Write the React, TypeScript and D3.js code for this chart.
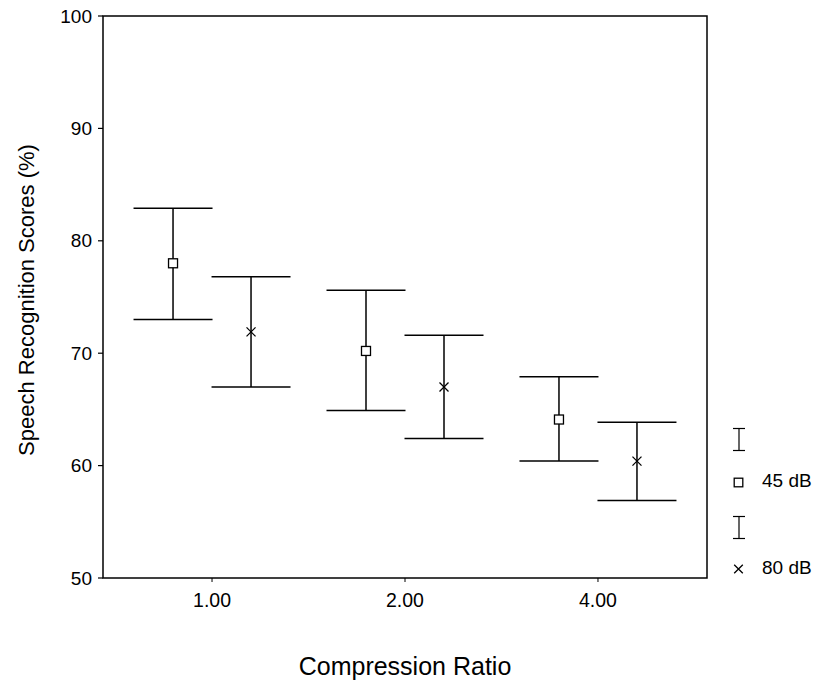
import React from "react";
import * as d3 from "d3";

const categories = ["1.00", "2.00", "4.00"];
const series = ["45 dB", "80 dB"];
const means45 = [78.0, 70.2, 64.1];
const upper45 = [82.9, 75.6, 67.9];
const lower45 = [73.0, 64.9, 60.4];
const means80 = [71.9, 67.0, 60.4];
const upper80 = [76.8, 71.6, 63.85];
const lower80 = [67.0, 62.4, 56.9];
const yTicks = [50, 60, 70, 80, 90, 100];

const W = 819, H = 681;
const L = 103, R = 707, T = 16, B = 578;
const FONT = "'Liberation Sans', Arial, sans-serif";

export default function App() {
  const x = d3.scalePoint<string>().domain(categories).range([L, R]).padding(0.565);
  const y = d3.scaleLinear().domain([50, 100]).range([B, T]);
  const off = 39;
  const cap = 39.5;
  const data = [
    { name: series[0], means: means45, up: upper45, lo: lower45, dx: -off, marker: "square" },
    { name: series[1], means: means80, up: upper80, lo: lower80, dx: off, marker: "cross" },
  ];
  const marker = (kind: string, cx: number, cy: number, s: number, key: string) =>
    kind === "square" ? (
      <rect key={key} x={cx - s} y={cy - s} width={2 * s} height={2 * s} fill="white" stroke="black" strokeWidth={1.3} />
    ) : (
      <path key={key} d={`M${cx - s},${cy - s}L${cx + s},${cy + s}M${cx - s},${cy + s}L${cx + s},${cy - s}`} stroke="black" strokeWidth={1.3} />
    );
  const legendI = [439.5, 527.5];
  const legendM = [482.5, 569];
  return (
    <svg width={W} height={H} style={{ position: "absolute", left: 0, top: 0, background: "white" }} fontFamily={FONT}>
      <rect x={0} y={0} width={W} height={H} fill="white" />
      <rect x={L} y={T} width={R - L} height={B - T} fill="none" stroke="black" strokeWidth={1.5} />
      {yTicks.map((t) => (
        <g key={t}>
          <line x1={L - 5} x2={L} y1={y(t)} y2={y(t)} stroke="black" strokeWidth={1.2} />
          <text x={L - 11} y={y(t)} dy="0.35em" textAnchor="end" fontSize={19}>{t}</text>
        </g>
      ))}
      {categories.map((c) => (
        <g key={c}>
          <line x1={x(c)} x2={x(c)} y1={B} y2={B + 4} stroke="black" strokeWidth={1} />
          <text x={x(c)} y={607} textAnchor="middle" fontSize={19.5}>{c}</text>
        </g>
      ))}
      {data.map((s) =>
        categories.map((c, i) => {
          const cx = (x(c) as number) + s.dx;
          return (
            <g key={s.name + c}>
              <line x1={cx} x2={cx} y1={y(s.up[i])} y2={y(s.lo[i])} stroke="black" strokeWidth={1.5} />
              <line x1={cx - cap} x2={cx + cap} y1={y(s.up[i])} y2={y(s.up[i])} stroke="black" strokeWidth={1.5} />
              <line x1={cx - cap} x2={cx + cap} y1={y(s.lo[i])} y2={y(s.lo[i])} stroke="black" strokeWidth={1.5} />
              {marker(s.marker, cx, y(s.means[i]), 4.5, "m")}
            </g>
          );
        })
      )}
      {data.map((s, k) => {
        const iy = legendI[k];
        const my = legendM[k];
        const lx = 739;
        return (
          <g key={s.name}>
            <line x1={lx} x2={lx} y1={iy - 11} y2={iy + 11} stroke="black" strokeWidth={1.2} />
            <line x1={lx - 6} x2={lx + 6} y1={iy - 11} y2={iy - 11} stroke="black" strokeWidth={1.2} />
            <line x1={lx - 6} x2={lx + 6} y1={iy + 11} y2={iy + 11} stroke="black" strokeWidth={1.2} />
            {marker(s.marker, lx - 0.5, my, 4.3, "lm")}
            <text x={762} y={my + 4.5} fontSize={19}>{s.name}</text>
          </g>
        );
      })}
      <text x={(L + R) / 2} y={675} textAnchor="middle" fontSize={25}>Compression Ratio</text>
      <text transform={`translate(34,300) rotate(-90)`} textAnchor="middle" fontSize={22}>Speech Recognition Scores (%)</text>
    </svg>
  );
}
